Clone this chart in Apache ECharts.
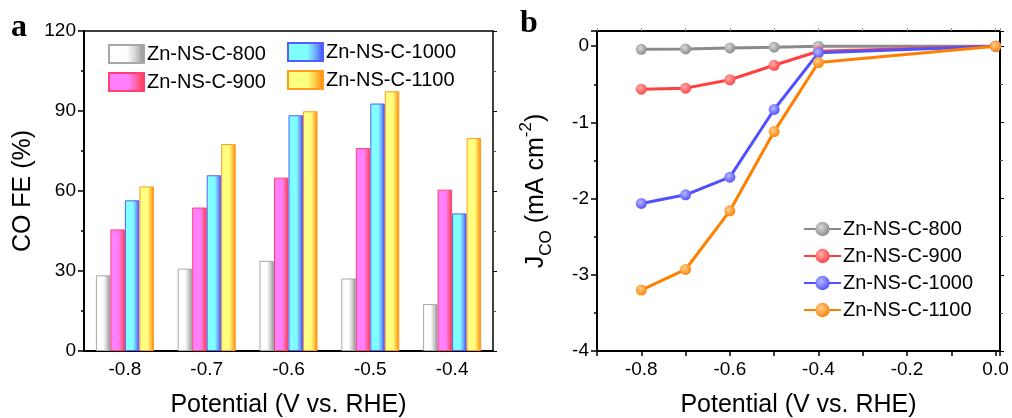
<!DOCTYPE html>
<html><head><meta charset="utf-8">
<script src="https://cdn.jsdelivr.net/npm/echarts@6/dist/echarts.min.js"></script>
<style>html,body{margin:0;padding:0;background:#fff}#c{width:1012px;height:418px}</style>
</head><body><div id="c"></div>
<script>
// Panel a data
const categories = ['-0.8', '-0.7', '-0.6', '-0.5', '-0.4'];
const seriesNames = ['Zn-NS-C-800', 'Zn-NS-C-900', 'Zn-NS-C-1000', 'Zn-NS-C-1100'];
const fe800 = [28.4, 30.9, 33.8, 27.2, 17.6];
const fe900 = [45.6, 53.8, 65.0, 76.1, 60.5];
const fe1000 = [56.5, 65.9, 88.4, 92.8, 51.6];
const fe1100 = [61.7, 77.6, 89.9, 97.4, 79.9];
const yTicksA = [0, 30, 60, 90, 120];
// Panel b data
const potentials = [-0.8, -0.7, -0.6, -0.5, -0.4, 0.0];
const j800 = [-0.04, -0.035, -0.022, -0.013, 0.0, 0.0];
const j900 = [-0.564, -0.55, -0.44, -0.25, -0.066, 0.0];
const j1000 = [-2.063, -1.95, -1.718, -0.83, -0.087, 0.0];
const j1100 = [-3.2, -2.93, -2.16, -1.12, -0.214, 0.0];
const xTicksB = ['-0.8', '-0.6', '-0.4', '-0.2', '0.0'];

const FONT = 'Liberation Sans, Arial, sans-serif';
function lg(stops){return {type:'linear',x:0,y:0,x2:1,y2:0,colorStops:stops.map(s=>({offset:s[0],color:s[1]}))};}
const barStyles = [
  {color: lg([[0,'#ffffff'],[0.5,'#ffffff'],[0.75,'#d0d0d0'],[1,'#8c8c8c']]), borderColor:'#a8a8a8'},
  {color: lg([[0,'#ff80ff'],[0.55,'#ff80ff'],[0.8,'#ff6098'],[1,'#ff3040']]), borderColor:'#ff4070'},
  {color: lg([[0,'#80ffff'],[0.55,'#80ffff'],[0.8,'#70a0ff'],[1,'#4040ff']]), borderColor:'#5060ff'},
  {color: lg([[0,'#ffff80'],[0.55,'#ffff80'],[0.8,'#ffc040'],[1,'#ff8000']]), borderColor:'#ff9a20'}
];
const barData = [fe800, fe900, fe1000, fe1100];
const lineColors = ['#8a8a8a', '#ff4040', '#5050ff', '#ff8000'];
const lineLight = ['#d8d8d8', '#ffb0b0', '#b8b8ff', '#ffd090'];
const lineData = [j800, j900, j1000, j1100];

const axisLineStyle = {color:'#000', width:2};
const tickLabel = {color:'#000', fontSize:19, fontFamily:FONT};
const nameStyle = {color:'#000', fontSize:25, fontFamily:FONT};

const series = [];
barData.forEach((d,i)=>{
  series.push({type:'bar', name:seriesNames[i], xAxisIndex:0, yAxisIndex:0, data:d,
    barWidth:14.5, barGap:'0%', itemStyle:Object.assign({borderWidth:1}, barStyles[i])});
});
lineData.forEach((d,i)=>{
  series.push({type:'line', name:seriesNames[i]+' ', xAxisIndex:3, yAxisIndex:2,
    data: potentials.map((p,k)=>[p,d[k]]), symbol:'circle', symbolSize:11,
    lineStyle:{color:lineColors[i], width:3},
    itemStyle:{color:{type:'radial',x:0.4,y:0.38,r:0.65,colorStops:[{offset:0,color:lineLight[i]},{offset:1,color:lineColors[i]}]}, borderWidth:0},
    z: 2+i
  });
});

const legendText = {fontSize:20, color:'#000', fontFamily:FONT, padding:[0,0,0,-2]};
const option = {
  animation:false,
  backgroundColor:'#fff',
  textStyle:{fontFamily:FONT},
  grid:[
    {left:84, top:31, width:409, height:320, containLabel:false, outerBoundsMode:'none'},
    {left:597, top:31, width:403, height:320, containLabel:false, outerBoundsMode:'none'}
  ],
  legend:[
    {data:[seriesNames[0], seriesNames[1]], orient:'vertical', left:103, top:39, itemWidth:35, itemHeight:18, itemGap:8,
      icon:'rect', textStyle:legendText},
    {data:[seriesNames[2], seriesNames[3]], orient:'vertical', left:282, top:37, itemWidth:35, itemHeight:18, itemGap:8,
      icon:'rect', textStyle:legendText},
    {data:seriesNames.map(s=>s+' '), orient:'vertical', left:798, top:214, itemWidth:37, itemHeight:18, itemGap:7,
      formatter: n=>n.trim(),
      textStyle:{fontSize:20, color:'#000', fontFamily:FONT, padding:[0,0,0,-3]}}
  ],
  xAxis:[
    {type:'category', gridIndex:0, data:categories, position:'bottom',
      axisLine:{onZero:false, lineStyle:axisLineStyle}, axisTick:{alignWithLabel:true, length:6, lineStyle:{width:2,color:'#000'}},
      axisLabel:Object.assign({margin:9}, tickLabel),
      name:'Potential (V vs. RHE)', nameLocation:'middle', nameGap:42, nameTextStyle:nameStyle},
    {type:'category', gridIndex:0, data:categories, position:'top',
      axisLine:{onZero:false, lineStyle:{color:'#000', width:1.5}}, axisTick:{alignWithLabel:true, length:3, lineStyle:{color:'#888'}},
      axisLabel:{show:false}},
    {type:'category', gridIndex:0, data:categories, position:'bottom',
      axisLine:{show:false, onZero:false}, axisTick:{alignWithLabel:false, length:3, lineStyle:{width:1.5,color:'#000'}},
      axisLabel:{show:false}},
    {type:'value', gridIndex:1, min:-0.9, max:0.01, interval:0.1, position:'bottom',
      axisLine:{onZero:false, lineStyle:axisLineStyle}, axisTick:{length:5, lineStyle:{width:1.5,color:'#000'}},
      splitLine:{show:false},
      axisLabel:Object.assign({margin:9, showMinLabel:true, showMaxLabel:true,
        formatter:v=>{const t=Math.round(v*10); if(Math.abs(v*10-t)>1e-6||t%2!==0) return ''; return xTicksB[(t+8)/2];}}, tickLabel),
      name:'Potential (V vs. RHE)', nameLocation:'middle', nameGap:42, nameTextStyle:nameStyle},
    {type:'value', gridIndex:1, min:-0.9, max:0.01, interval:0.1, position:'top',
      axisLine:{onZero:false, lineStyle:{color:'#000', width:2}}, axisTick:{length:3, lineStyle:{color:'#999'}},
      splitLine:{show:false}, axisLabel:{show:false}}
  ],
  yAxis:[
    {type:'value', gridIndex:0, min:0, max:120, interval:30, position:'left',
      axisLine:{show:true, onZero:false, lineStyle:axisLineStyle}, axisTick:{show:true, length:6, lineStyle:{width:1.5,color:'#000'}},
      minorTick:{show:true, splitNumber:2, length:3, lineStyle:{width:1.5,color:'#000'}},
      splitLine:{show:false},
      axisLabel:Object.assign({margin:8, formatter:v=>yTicksA.includes(v)?String(v):''}, tickLabel),
      name:'CO FE (%)', nameLocation:'middle', nameGap:48, nameRotate:90, nameTextStyle:nameStyle},
    {type:'value', gridIndex:0, min:0, max:120, interval:30, position:'right',
      axisLine:{show:true, onZero:false, lineStyle:{color:'#000', width:1.5}}, axisTick:{show:true, length:4, lineStyle:{color:'#000'}},
      minorTick:{show:true, splitNumber:2, length:3, lineStyle:{color:'#555'}},
      splitLine:{show:false}, axisLabel:{show:false}},
    {type:'value', gridIndex:1, min:-4, max:0.2, interval:1, position:'left',
      axisLine:{show:true, onZero:false, lineStyle:axisLineStyle}, axisTick:{show:true, length:6, lineStyle:{width:1.5,color:'#000'}},
      minorTick:{show:true, splitNumber:2, length:3, lineStyle:{width:1.5,color:'#000'}},
      splitLine:{show:false},
      axisLabel:Object.assign({margin:8, formatter:v=>Number.isInteger(v)?String(v):''}, tickLabel),
      name:'{a|J}{sub|CO}{a| (mA cm}{sup|-2}{a|)}', nameLocation:'middle', nameGap:45, nameRotate:90,
      nameTextStyle:{color:'#000', fontFamily:FONT, rich:{
        a:{fontSize:25, fontFamily:FONT, color:'#000', lineHeight:32, verticalAlign:'middle'},
        sub:{fontSize:17, fontFamily:FONT, color:'#000', lineHeight:32, verticalAlign:'bottom', padding:[0,0,-3,0]},
        sup:{fontSize:17, fontFamily:FONT, color:'#000', lineHeight:32, verticalAlign:'top', padding:[-2,0,0,0]}
      }}},
    {type:'value', gridIndex:1, min:-4, max:0.2, interval:1, position:'right',
      axisLine:{show:true, onZero:false, lineStyle:{color:'#000', width:2}}, axisTick:{show:true, length:4, lineStyle:{color:'#000'}},
      minorTick:{show:true, splitNumber:2, length:3, lineStyle:{color:'#555'}},
      splitLine:{show:false}, axisLabel:{show:false}}
  ],
  graphic:[
    {type:'text', left:11, top:12, style:{text:'a', font:'bold 32px "Liberation Serif", serif', fill:'#000'}},
    {type:'text', left:520, top:8, style:{text:'b', font:'bold 32px "Liberation Serif", serif', fill:'#000'}}
  ],
  series: series
};
const chart = echarts.init(document.getElementById('c'), null, {renderer:'canvas'});
chart.setOption(option);
</script></body></html>
